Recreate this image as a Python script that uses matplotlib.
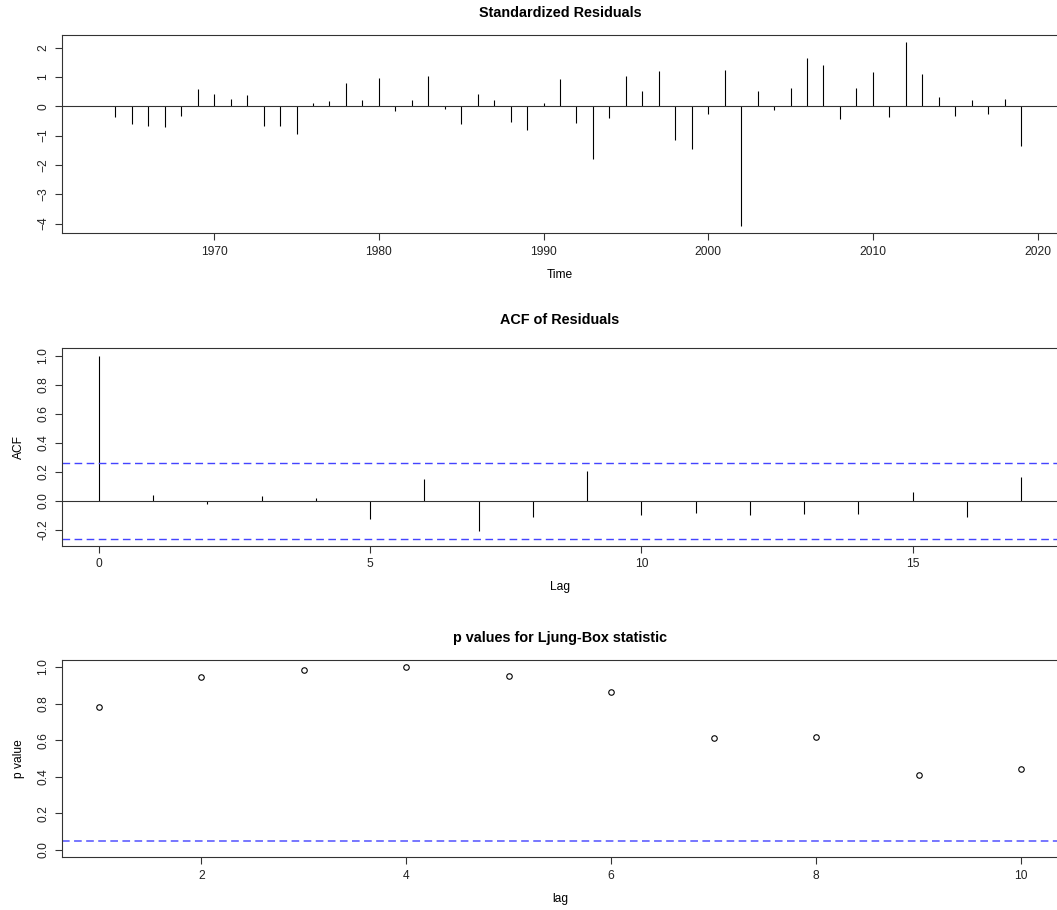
import matplotlib
matplotlib.use("Agg")
import matplotlib.pyplot as plt

# datos
anios = list(range(1963, 2020))
residuos = [0.0, -0.35, -0.59, -0.66, -0.69, -0.33, 0.58, 0.41, 0.25, 0.39,
            -0.66, -0.66, -0.95, 0.11, 0.18, 0.78, 0.22, 0.95, -0.16, 0.22,
            1.02, -0.08, -0.61, 0.41, 0.22, -0.52, -0.82, 0.11, 0.92, -0.58,
            -1.81, -0.39, 1.04, 0.51, 1.19, -1.15, -1.45, -0.25, 1.25, -4.08,
            0.51, -0.11, 0.61, 1.64, 1.42, -0.44, 0.61, 1.16, -0.37, 2.18,
            1.11, 0.31, -0.32, 0.20, -0.28, 0.24, -1.34]

lags_acf = list(range(0, 18))
acf_valores = [1.0, 0.043, -0.023, 0.032, 0.023, -0.126, 0.148, -0.208, -0.112,
               0.208, -0.098, -0.084, -0.098, -0.091, -0.091, 0.062, -0.114, 0.164]
limite_conf = 0.26

lags_lb = list(range(1, 11))
p_valores = [0.780, 0.945, 0.983, 0.998, 0.952, 0.861, 0.612, 0.617, 0.412, 0.445]
nivel = 0.05

W, H = 1057, 910
PX = 72 / 100  # puntos por pixel

plt.rcParams["font.family"] = ["Liberation Sans", "DejaVu Sans"]
plt.rcParams["font.size"] = 12 * PX
plt.rcParams["axes.linewidth"] = 1.1 * PX
plt.rcParams["axes.edgecolor"] = "#333333"
plt.rcParams["lines.scale_dashes"] = False
for eje in ("xtick", "ytick"):
    plt.rcParams[eje + ".major.size"] = 7 * PX
    plt.rcParams[eje + ".major.width"] = 1.1 * PX
    plt.rcParams[eje + ".color"] = "#333333"
    plt.rcParams[eje + ".labelcolor"] = "#222222"
plt.rcParams["xtick.major.pad"] = 5.4 * PX
plt.rcParams["ytick.major.pad"] = 5.8 * PX


def rango_r(lo, hi):
    # expansion del 4% como en R
    d = (hi - lo) * 0.04
    return lo - d, hi + d


def caja(arriba, abajo):
    return [62 / W, (H - abajo) / H, 996 / W, (abajo - arriba) / H]


def estilo(ax, titulo, pad_titulo, xlabel, ylabel=None):
    ax.set_title(titulo, fontsize=14.4 * PX, fontweight="bold", pad=pad_titulo * PX)
    ax.set_xlabel(xlabel, labelpad=11 * PX)
    if ylabel:
        ax.set_ylabel(ylabel, labelpad=12 * PX)
    ax.tick_params(axis="y", labelrotation=90)
    for lab in ax.get_yticklabels():
        lab.set_va("center")


fig = plt.figure(figsize=(W / 100, H / 100), dpi=100)

# Residuos estandarizados
ax1 = fig.add_axes(caja(35, 233.3))
ax1.vlines(anios, 0, residuos, color="black", lw=1.1 * PX)
ax1.axhline(0, color="#333333", lw=1.1 * PX)
ax1.set_xlim(*rango_r(min(anios), max(anios)))
ax1.set_ylim(*rango_r(min(residuos), max(residuos)))
ax1.set_xticks([1970, 1980, 1990, 2000, 2010, 2020])
ax1.set_yticks([-4, -3, -2, -1, 0, 1, 2])
estilo(ax1, "Standardized Residuals", 18, "Time")

# ACF de los residuos
ax2 = fig.add_axes(caja(348.3, 546))
ax2.vlines(lags_acf, 0, acf_valores, color="black", lw=1.1 * PX)
ax2.axhline(0, color="#333333", lw=1.1 * PX)
for c in (limite_conf, -limite_conf):
    ax2.axhline(c, color="#4444ff", lw=1.4 * PX, dashes=(5.5, 3.2))
ax2.set_xlim(*rango_r(min(lags_acf), max(lags_acf)))
ax2.set_ylim(*rango_r(min(min(acf_valores), -limite_conf), max(acf_valores)))
ax2.set_xticks([0, 5, 10, 15])
ax2.set_yticks([-0.2, 0.0, 0.2, 0.4, 0.6, 0.8, 1.0])
ax2.set_yticklabels(["-0.2", "0.0", "0.2", "0.4", "0.6", "0.8", "1.0"])
estilo(ax2, "ACF of Residuals", 24.7, "Lag", "ACF")

# p-valores Ljung-Box
ax3 = fig.add_axes(caja(659.7, 857.3))
ax3.plot(lags_lb, p_valores, "o", mfc="none", mec="black", ms=5.5 * PX, mew=1.1 * PX)
ax3.axhline(nivel, color="#6a6aff", lw=1.8 * PX, dashes=(5.5, 3.2))
ax3.set_xlim(*rango_r(min(lags_lb), max(lags_lb)))
ax3.set_ylim(*rango_r(0, 1))
ax3.set_xticks([2, 4, 6, 8, 10])
ax3.set_yticks([0.0, 0.2, 0.4, 0.6, 0.8, 1.0])
ax3.set_yticklabels(["0.0", "0.2", "0.4", "0.6", "0.8", "1.0"])
estilo(ax3, "p values for Ljung-Box statistic", 18, "lag", "p value")

fig.savefig("out.png", dpi=100)
